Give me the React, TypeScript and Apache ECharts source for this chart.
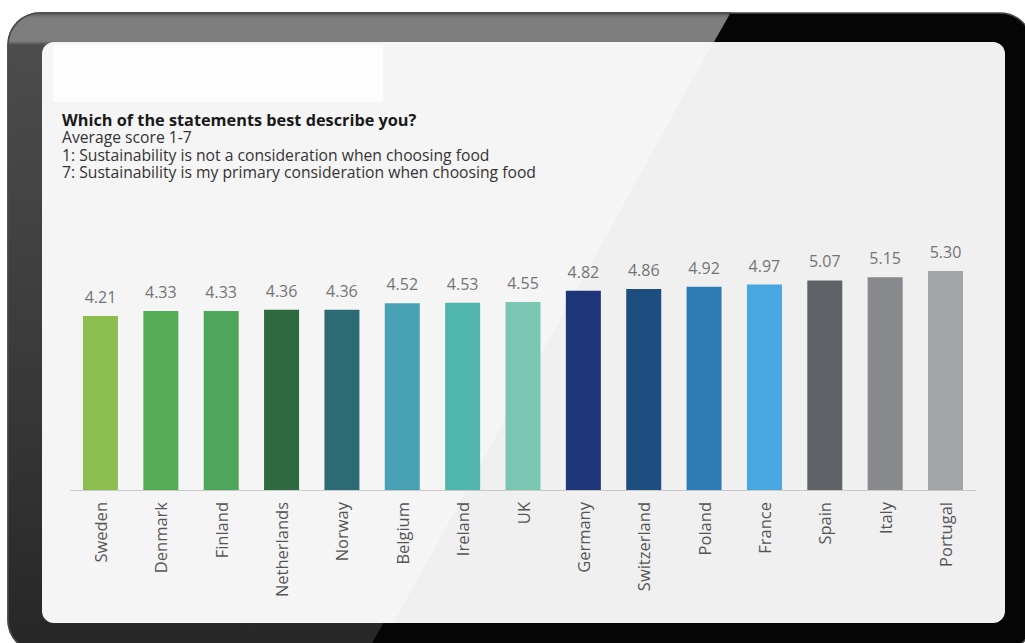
import React, { useEffect, useRef } from "react";
import * as echarts from "echarts";

const countries = [
  "Sweden", "Denmark", "Finland", "Netherlands", "Norway", "Belgium", "Ireland", "UK",
  "Germany", "Switzerland", "Poland", "France", "Spain", "Italy", "Portugal",
];
const scores = [4.21, 4.33, 4.33, 4.36, 4.36, 4.52, 4.53, 4.55, 4.82, 4.86, 4.92, 4.97, 5.07, 5.15, 5.3];
const barColors = [
  "#8dbf50", "#55ac55", "#4ea65a", "#2e6a3f", "#2d6b74", "#48a1b4", "#4fb5ad", "#7ac6b3",
  "#1f357a", "#1e4d80", "#2f7bb6", "#48a6e0", "#5f6367", "#87898d", "#a2a5a7",
];
const titleText = "Which of the statements best describe you?";
const subtitleLines = [
  "Average score 1-7",
  "1: Sustainability is not a consideration when choosing food",
  "7: Sustainability is my primary consideration when choosing food",
];

const FONT = "'Open Sans', 'Noto Sans', sans-serif";

export default function App() {
  const ref = useRef<HTMLDivElement>(null);
  useEffect(() => {
    if (!ref.current) return;
    const chart = echarts.init(ref.current, undefined, { renderer: "svg" });
    const option: any = {
      animation: false,
      backgroundColor: "#ffffff",
      graphic: [
        // tablet frame (black base)
        {
          type: "rect",
          z: 0,
          silent: true,
          shape: { x: 8, y: 13, width: 1024, height: 639, r: 32 },
          style: { fill: "#050505", stroke: "#4a4a4a", lineWidth: 1.5 },
        },
        // grey left part of frame
        {
          type: "rect",
          z: 0,
          silent: true,
          shape: { x: 8, y: 13, width: 722, height: 639, r: [32, 0, 0, 32] },
          style: {
            fill: {
              type: "linear", x: 0, y: 0, x2: 0, y2: 1,
              colorStops: [
                { offset: 0, color: "#5a5a5a" },
                { offset: 0.008, color: "#7e7e7e" },
                { offset: 0.044, color: "#7e7e7e" },
                { offset: 0.05, color: "#4c4c4c" },
                { offset: 0.5, color: "#3c3c3c" },
                { offset: 1, color: "#262626" },
              ],
            },
            stroke: "#4a4a4a",
            lineWidth: 1.5,
          },
        },
        // black diagonal reflection edge
        {
          type: "polygon",
          z: 0,
          silent: true,
          shape: { points: [[730, 13.8], [731, 13.8], [731, 652], [367, 652]] },
          style: { fill: "#050505" },
        },
        // screen
        {
          type: "rect",
          z: 1,
          silent: true,
          shape: { x: 42, y: 42, width: 963, height: 581, r: 12 },
          style: {
            fill: {
              type: "linear", x: 669.2, y: 17.9, x2: 756.8, y2: 66.1, global: true,
              colorStops: [
                { offset: 0, color: "#f5f5f5" },
                { offset: 0.5, color: "#f5f5f5" },
                { offset: 0.5, color: "#f0f0f0" },
                { offset: 1, color: "#f0f0f0" },
              ],
            },
          },
        },
        // white box
        {
          type: "rect",
          z: 1,
          silent: true,
          shape: { x: 53, y: 45, width: 330, height: 57 },
          style: { fill: "#fdfdfd" },
        },
        {
          type: "text",
          z: 3,
          x: 62,
          y: 120,
          style: {
            text: titleText,
            font: `bold 16.3px ${FONT}`,
            fill: "#1a1a1a",
            verticalAlign: "middle",
          },
        },
        {
          type: "text",
          z: 3,
          x: 62,
          y: 128.5,
          style: {
            text: subtitleLines.join("\n"),
            font: `15.7px ${FONT}`,
            lineHeight: 17.5,
            fill: "#333333",
            verticalAlign: "top",
          },
        },
      ],
      grid: { left: 70.3, right: 49.3, top: 242, bottom: 153, containLabel: false },
      xAxis: {
        type: "category",
        data: countries,
        axisLine: { show: true, lineStyle: { color: "#c9c9c9", width: 1 } },
        axisTick: { show: false },
        axisLabel: {
          rotate: 90,
          margin: 12,
          fontSize: 16.5,
          color: "#555555",
          fontFamily: FONT,
          interval: 0,
        },
        z: 4,
      },
      yAxis: {
        type: "value",
        min: 0,
        max: 6,
        show: false,
        splitLine: { show: false },
      },
      series: [
        {
          type: "bar",
          z: 3,
          barWidth: 35,
          data: scores.map((v, i) => ({ value: v, itemStyle: { color: barColors[i] } })),
          label: {
            show: true,
            position: "top",
            distance: 11,
            fontSize: 16,
            color: "#747474",
            fontFamily: FONT,
            formatter: (p: any) => Number(p.value).toFixed(2),
          },
        },
      ],
    };
    chart.setOption(option);
    return () => chart.dispose();
  }, []);
  return (
    <div
      ref={ref}
      style={{ position: "fixed", left: 0, top: 0, width: 1025, height: 643 }}
    />
  );
}
